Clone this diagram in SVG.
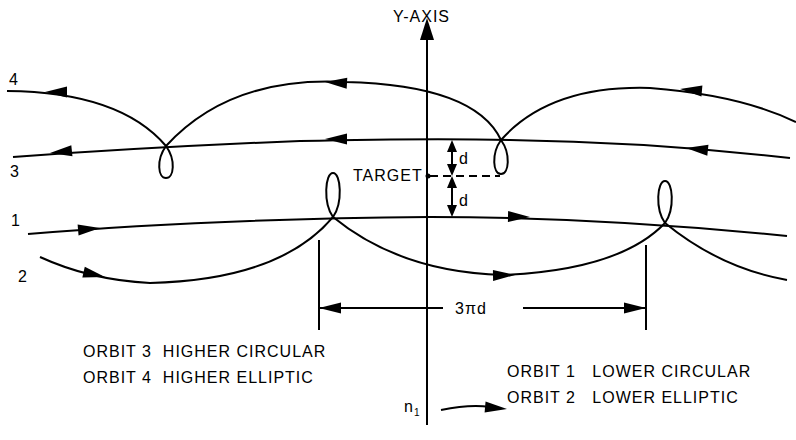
<svg xmlns="http://www.w3.org/2000/svg" xmlns:xlink="http://www.w3.org/1999/xlink" width="796" height="440" viewBox="0 0 796 440">
<style>
.c{fill:none;stroke:#000;stroke-width:2}
.t{font-family:"Liberation Sans",Arial,sans-serif;font-size:16px;fill:#000;letter-spacing:1px}
.l{white-space:pre}
</style>
<defs>
<path id="ah" d="M0,0 L-22,-5.5 L-22,5.5 Z" fill="#000"/>
<path id="sa" d="M0,0 L-5,-12 L5,-12 Z" fill="#000"/>
</defs>
<rect width="796" height="440" fill="#fff"/>
<g id="axis">
<line class="c" x1="427" y1="38" x2="427" y2="425"/>
<path d="M427,18 L420,40 L434,40 Z" fill="#000"/>
<text class="t" x="393" y="22">Y-AXIS</text>
</g>
<g id="orbit3">
<path class="c" d="M13,157 Q150,147 300,141 Q430,138 510,140 Q650,142 790,158"/>
<use xlink:href="#ah" transform="translate(50,153) rotate(174)"/>
<use xlink:href="#ah" transform="translate(325,139) rotate(180)"/>
<use xlink:href="#ah" transform="translate(686,148) rotate(186)"/>
<text class="t" x="10" y="177">3</text>
</g>
<g id="orbit4">
<path class="c" d="M7,91 Q120,92 166,146"/>
<path class="c" d="M166,146 Q230,76 345,82 Q475,85 501,140"/>
<path class="c" d="M501,140 Q550,85 650,88 Q740,95 796,122"/>
<path class="c" d="M166,146 C176,160 174,178 166,178 C158,178 156,160 166,146"/>
<path class="c" d="M501,140 C511,154 509,174 501,174 C493,174 491,154 501,140"/>
<use xlink:href="#ah" transform="translate(45,92) rotate(180)"/>
<use xlink:href="#ah" transform="translate(325,82) rotate(183)"/>
<use xlink:href="#ah" transform="translate(680,89) rotate(185)"/>
<text class="t" x="9" y="85">4</text>
</g>
<g id="orbit1">
<path class="c" d="M28,234 Q200,219 430,217 Q600,217 787,236"/>
<use xlink:href="#ah" transform="translate(100,228) rotate(-5)"/>
<use xlink:href="#ah" transform="translate(530,217) rotate(1)"/>
<text class="t" x="11" y="226">1</text>
</g>
<g id="orbit2">
<path class="c" d="M40,257 Q90,280 150,283 Q280,280 333,217"/>
<path class="c" d="M333,217 Q400,272 503,275 Q620,270 665,223"/>
<path class="c" d="M665,223 Q720,268 787,280"/>
<path class="c" d="M333,217 C323,203 325,173 333,173 C341,173 343,203 333,217"/>
<path class="c" d="M665,223 C655,209 657,181 665,181 C673,181 675,209 665,223"/>
<use xlink:href="#ah" transform="translate(105,277) rotate(13)"/>
<use xlink:href="#ah" transform="translate(515,275) rotate(-1)"/>
<text class="t" x="18" y="282">2</text>
</g>
<g id="target">
<circle cx="428" cy="176" r="2.5" fill="#000"/>
<line class="c" x1="430" y1="176" x2="500" y2="176" stroke-dasharray="8,5"/>
<text class="t" x="353" y="181">TARGET</text>
<line class="c" x1="452" y1="150" x2="452" y2="165"/>
<use xlink:href="#sa" transform="translate(452,140) rotate(180)"/>
<use xlink:href="#sa" transform="translate(452,176)"/>
<line class="c" x1="452" y1="188" x2="452" y2="205"/>
<use xlink:href="#sa" transform="translate(452,176) rotate(180)"/>
<use xlink:href="#sa" transform="translate(452,217)"/>
<text class="t" x="459" y="164">d</text>
<text class="t" x="459" y="206">d</text>
</g>
<g id="dimension">
<line class="c" x1="319" y1="240" x2="319" y2="330"/>
<line class="c" x1="646" y1="245" x2="646" y2="330"/>
<line class="c" x1="319" y1="308" x2="443" y2="308"/>
<line class="c" x1="523" y1="308" x2="646" y2="308"/>
<use xlink:href="#ah" transform="translate(319,308) rotate(180)"/>
<use xlink:href="#ah" transform="translate(646,308)"/>
<text class="t" x="455" y="314">3πd</text>
</g>
<g id="legend">
<text class="t l" x="83" y="357">ORBIT 3  HIGHER CIRCULAR</text>
<text class="t l" x="83" y="383">ORBIT 4  HIGHER ELLIPTIC</text>
<text class="t l" x="507" y="377">ORBIT 1   LOWER CIRCULAR</text>
<text class="t l" x="507" y="403">ORBIT 2   LOWER ELLIPTIC</text>
<text class="t" x="404" y="412">n<tspan font-size="10" dy="4">1</tspan></text>
<path class="c" d="M441,410 Q470,404 490,407"/>
<use xlink:href="#ah" transform="translate(507,409) rotate(5)"/>
</g>
</svg>
